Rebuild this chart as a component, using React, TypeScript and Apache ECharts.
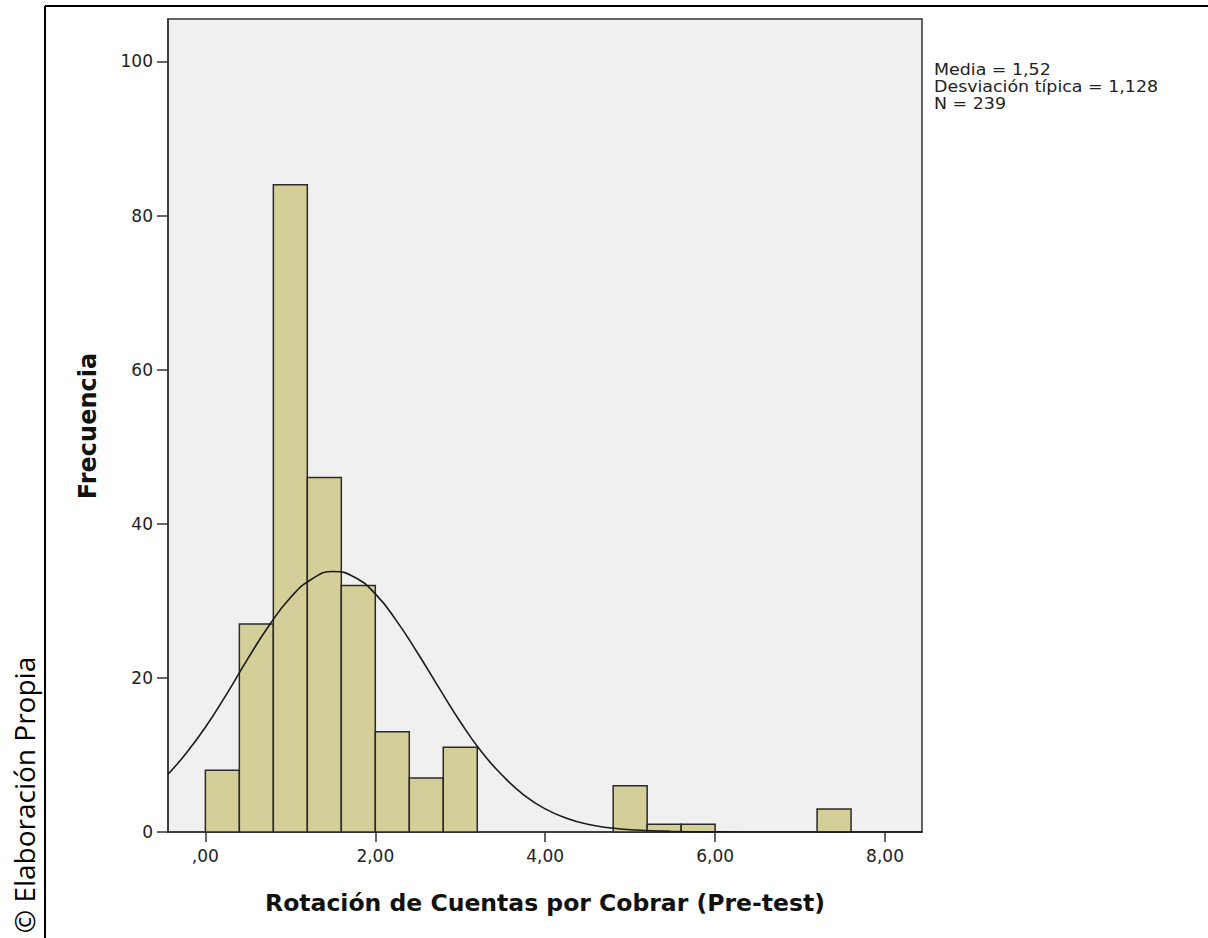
import React, { useEffect, useRef } from "react";
import * as echarts from "echarts";

// ---- Data ----
const binStarts = [0, 0.4, 0.8, 1.2, 1.6, 2.0, 2.4, 2.8, 3.2, 3.6, 4.0, 4.4, 4.8, 5.2, 5.6, 6.0, 6.4, 6.8, 7.2];
const counts = [8, 27, 84, 46, 32, 13, 7, 11, 0, 0, 0, 0, 6, 1, 1, 0, 0, 0, 3];
const binWidth = 0.4;

const curveX = [-0.44, -0.25, 0, 0.25, 0.5, 0.75, 1, 1.25, 1.5, 1.75, 2, 2.25, 2.5, 2.75, 3, 3.25, 3.5, 3.75, 4, 4.25, 4.5, 4.75, 5, 5.5, 6, 7, 8.44];
const curveY = [7.5, 9.9, 13.6, 17.9, 22.5, 26.8, 30.4, 32.8, 33.8, 33.1, 30.9, 27.4, 23.2, 18.7, 14.3, 10.4, 7.3, 4.8, 3.0, 1.8, 1.0, 0.56, 0.29, 0.07, 0.01, 0, 0];

const xTickValues = [0, 2, 4, 6, 8];
const xTickLabels = [",00", "2,00", "4,00", "6,00", "8,00"];
const yTickValues = [0, 20, 40, 60, 80, 100];

const xTitle = "Rotación de Cuentas por Cobrar (Pre-test)";
const yTitle = "Frecuencia";
const statsLines = ["Media = 1,52", "Desviación típica = 1,128", "N = 239"];
const sourceNote = "© Elaboración Propia";

export default function App() {
  const ref = useRef<HTMLDivElement>(null);

  useEffect(() => {
    if (!ref.current) return;
    const chart = echarts.init(ref.current, undefined, { renderer: "svg" });
    const font = "DejaVu Sans";
    const option: any = {
      animation: false,
      backgroundColor: "#ffffff",
      grid: {
        left: 168,
        top: 19,
        width: 754,
        height: 813,
        show: true,
        backgroundColor: "#F0F0F0",
        borderColor: "#333333",
        borderWidth: 1.5,
      },
      xAxis: {
        type: "value",
        min: -0.44,
        max: 8.435,
        splitLine: { show: false },
        axisLine: { show: true, onZero: false, lineStyle: { color: "#333333", width: 1.5 } },
        axisTick: {
          show: true,
          length: 10,
          customValues: xTickValues,
          lineStyle: { color: "#333333", width: 1.5 },
        },
        axisLabel: {
          customValues: xTickValues,
          margin: 15,
          fontFamily: font,
          fontSize: 17,
          color: "#222222",
          formatter: (v: number) => {
            const i = xTickValues.indexOf(v);
            return i >= 0 ? xTickLabels[i] : "";
          },
        },
      },
      yAxis: {
        type: "value",
        min: 0,
        max: 105.5,
        splitLine: { show: false },
        axisLine: { show: true, onZero: false, lineStyle: { color: "#333333", width: 1.5 } },
        axisTick: {
          show: true,
          length: 11,
          customValues: yTickValues,
          lineStyle: { color: "#333333", width: 1.5 },
        },
        axisLabel: {
          customValues: yTickValues,
          margin: 15,
          fontFamily: font,
          fontSize: 17,
          color: "#222222",
        },
      },
      series: [
        {
          type: "custom",
          data: binStarts.map((s, i) => [s, s + binWidth, counts[i]]),
          encode: { x: [0, 1], y: 2 },
          renderItem: (params: any, api: any) => {
            const x0 = api.value(0);
            const x1 = api.value(1);
            const c = api.value(2);
            if (!c) return null;
            const p0 = api.coord([x0, c]);
            const p1 = api.coord([x1, 0]);
            return {
              type: "rect",
              shape: { x: p0[0], y: p0[1], width: p1[0] - p0[0], height: p1[1] - p0[1] },
              style: { fill: "#D4CF98", stroke: "#2a2a2a", lineWidth: 1.5 },
            };
          },
          z: 2,
        },
        {
          type: "line",
          data: curveX.map((x, i) => [x, curveY[i]]),
          smooth: true,
          showSymbol: false,
          symbol: "none",
          lineStyle: { color: "#1a1a1a", width: 1.6 },
          z: 3,
        },
      ],
      graphic: [
        { type: "line", shape: { x1: 45, y1: 6, x2: 45, y2: 938 }, style: { stroke: "#000", lineWidth: 2 } },
        { type: "line", shape: { x1: 45, y1: 6, x2: 1208, y2: 6 }, style: { stroke: "#000", lineWidth: 2 } },
        {
          type: "text",
          x: 545,
          y: 903,
          style: {
            text: xTitle,
            fontFamily: font,
            fontWeight: "bold",
            fontSize: 23.5,
            fill: "#111",
            textAlign: "center",
            textVerticalAlign: "middle",
          },
        },
        {
          type: "text",
          x: 88,
          y: 426,
          rotation: Math.PI / 2,
          style: {
            text: yTitle,
            fontFamily: font,
            fontWeight: "bold",
            fontSize: 24,
            fill: "#111",
            textAlign: "center",
            textVerticalAlign: "middle",
          },
        },
        ...statsLines.map((t, i) => ({
          type: "text",
          x: 934,
          y: 61 + i * 17,
          scaleX: 1.09,
          style: {
            text: t,
            fontFamily: font,
            fontSize: 16,
            fill: "#222",
            textAlign: "left",
            textVerticalAlign: "top",
          },
        })),
        {
          type: "text",
          x: 24,
          y: 795,
          rotation: Math.PI / 2,
          style: {
            text: sourceNote,
            fontFamily: "Open Sans",
            fontSize: 28,
            fill: "#000",
            textAlign: "center",
            textVerticalAlign: "middle",
          },
        },
      ],
    };
    chart.setOption(option);
    return () => chart.dispose();
  }, []);

  return (
    <div
      ref={ref}
      style={{ position: "absolute", left: 0, top: 0, width: 1208, height: 938 }}
    />
  );
}
